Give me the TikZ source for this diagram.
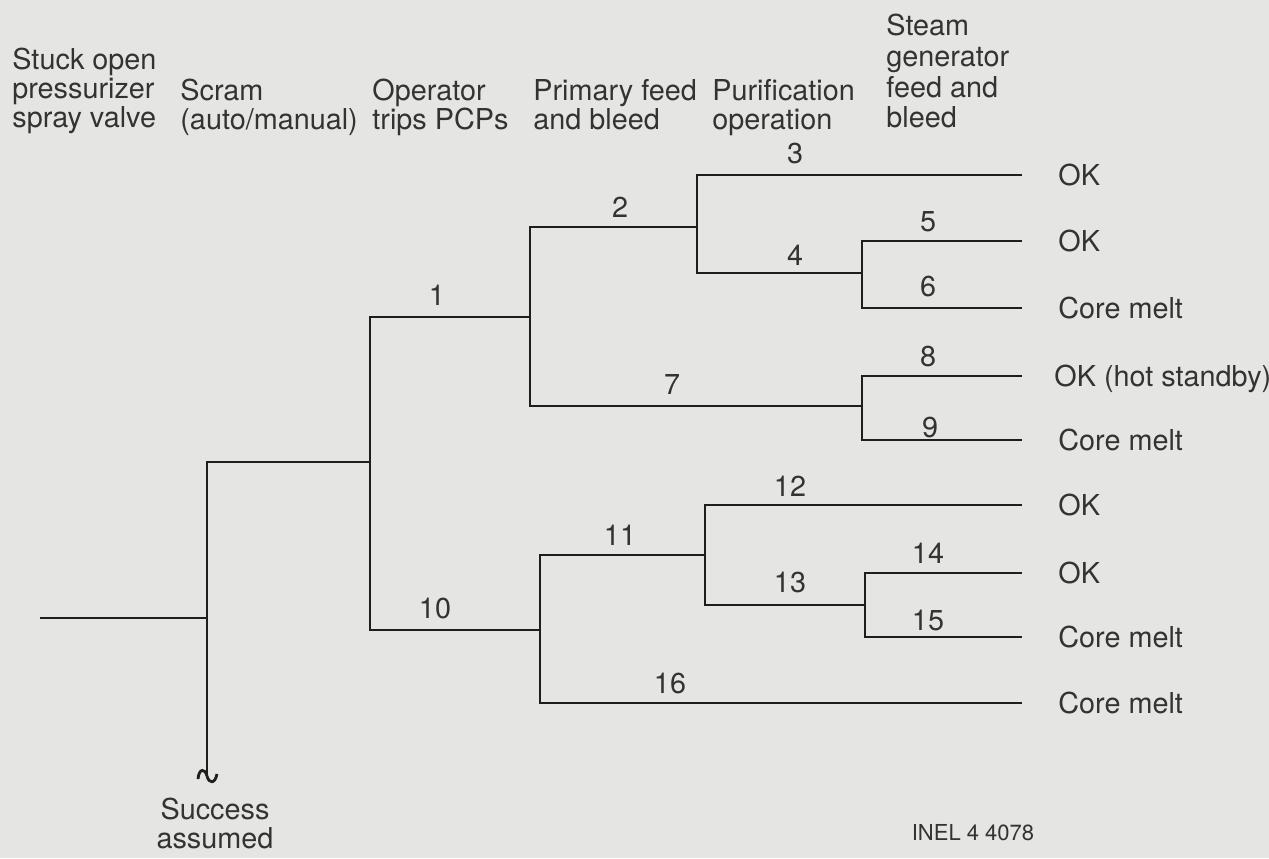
\documentclass[tikz,border=0pt]{standalone}
\usepackage{fontspec}
\setmainfont{TeX Gyre Heros}
\usepackage{xcolor}
\usetikzlibrary{positioning}
\definecolor{paper}{HTML}{E5E5E3}
\definecolor{ink}{HTML}{1E1E1E}
\definecolor{txt}{HTML}{333333}
\begin{document}
\begin{tikzpicture}[
    x=0.5pt, y=-0.5pt,
    font=\fontsize{14.4}{14.5}\selectfont,
    branch/.style={draw=ink, line width=1.4pt},
    head/.style={anchor=north west, align=left, text=txt, inner sep=0pt},
    num/.style={text=txt, inner sep=0pt},
    outcome/.style={anchor=west, text=txt, inner xsep=18pt, inner ysep=0pt,
                    text height=10pt, text depth=0pt}
]
\fill[paper] (0,0) rectangle (1269,858);
\useasboundingbox (0,0) rectangle (1269,858);

% column headings
\node[head] (hinit) at (12,48)  {Stuck open\\pressurizer\\spray valve};
\node[head] (hscram) at (180,79) {Scram\\(auto/manual)};
\node[head] (htrip) at (372,79) {Operator\\trips PCPs};
\node[head] (hfeed) at (533,79) {Primary feed\\and bleed};
\node[head] (hpur)  at (712,79) {Purification\\operation};
\node[head, font=\fontsize{14.4}{15.3}\selectfont] (hsg) at (886,14)
    {Steam\\generator\\feed and\\bleed};

% branch points
\coordinate (init) at (40,618);
\coordinate (s0)   at (207,618);
\coordinate (tl)   at (207,776);
\coordinate (n1)   at (370,462);
\coordinate (n2)   at (530,317);
\coordinate (n3)   at (697,227);
\coordinate (n4)   at (862,273);
\coordinate (n7)   at (862,406);
\coordinate (n10)  at (540,630);
\coordinate (n11)  at (705,555);
\coordinate (n13)  at (865,605);

% end states
\node[outcome] (ok3)  at (1022,175) {OK};
\node[outcome] (ok5)  at (1022,241) {OK};
\node[outcome] (cm6)  at (1022,308) {Core melt};
\node[outcome, inner xsep=16pt] (ok8) at (1022,376) {OK (hot standby)};
\node[outcome] (cm9)  at (1022,440) {Core melt};
\node[outcome] (ok12) at (1022,505) {OK};
\node[outcome] (ok14) at (1022,573) {OK};
\node[outcome] (cm15) at (1022,637) {Core melt};
\node[outcome] (cm16) at (1022,703) {Core melt};

% tree
\draw[branch] (init) -- (s0);
\draw[branch] (n1) -| (tl);
\draw[branch] (tl) .. controls (205,768) and (199,768) .. (198,779);
\draw[branch] (tl) .. controls (209,784) and (215,784) .. (217,774);
\draw[branch] (n2) -| (n1) |- (n10);
\draw[branch] (n3) -| (n2) |- (n7);
\draw[branch] (ok3.west) -| (n3) |- (n4);
\draw[branch] (ok5.west) -| (n4) |- (cm6.west);
\draw[branch] (ok8.west) -| (n7) |- (cm9.west);
\draw[branch] (n11) -| (n10) |- (cm16.west);
\draw[branch] (ok12.west) -| (n11) |- (n13);
\draw[branch] (ok14.west) -| (n13) |- (cm15.west);

% sequence numbers
\node[num] (q1)  at (437,295) {1};
\node[num] (q2)  at (620,207) {2};
\node[num] (q3)  at (795,153) {3};
\node[num] (q4)  at (795,255) {4};
\node[num] (q5)  at (928,222) {5};
\node[num] (q6)  at (928,286) {6};
\node[num] (q7)  at (672,384) {7};
\node[num] (q8)  at (928,356) {8};
\node[num] (q9)  at (930,427) {9};
\node[num] (q10) at (435,608) {10};
\node[num] (q11) at (620,535) {11};
\node[num] (q12) at (790,486) {12};
\node[num] (q13) at (790,582) {13};
\node[num] (q14) at (928,553) {14};
\node[num] (q15) at (928,620) {15};
\node[num] (q16) at (670,683) {16};

\node[text=txt, align=center, anchor=north, inner sep=0pt] (succ) at (215,798)
    {Success\\assumed};
\node[text=txt, font=\fontsize{11}{13}\selectfont, inner sep=0pt] (inel) at (973,833)
    {INEL 4 4078};
\end{tikzpicture}
\end{document}
